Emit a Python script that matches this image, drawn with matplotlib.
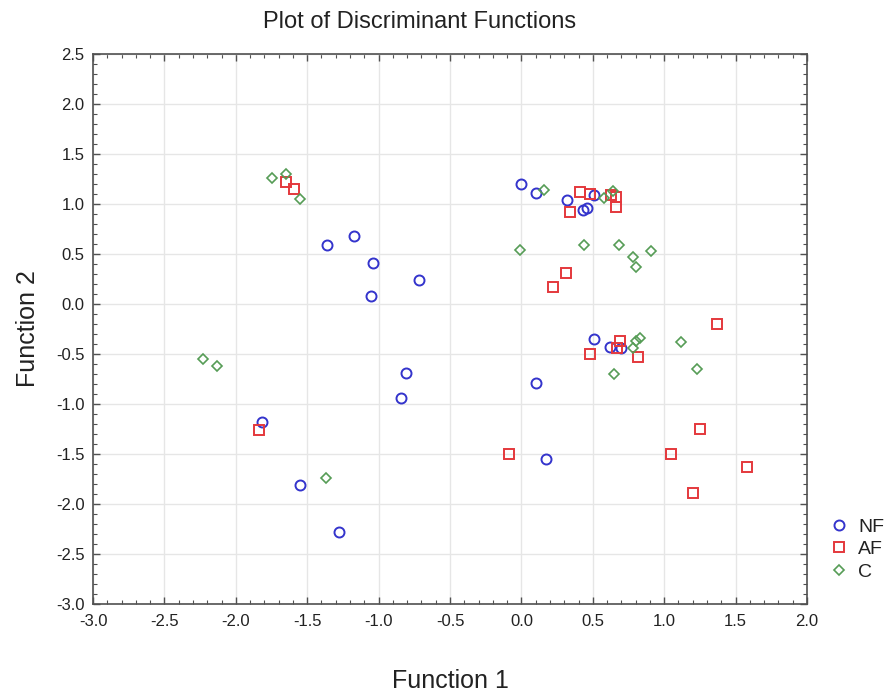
import matplotlib
matplotlib.use("Agg")
import matplotlib.pyplot as plt
from matplotlib.ticker import MultipleLocator, FormatStrFormatter

plt.rcParams['font.family'] = ['Liberation Sans', 'DejaVu Sans']

# ---- data ----
nf_x = [-1.36, -1.17, -1.04, -0.72, -1.05, 0.00, 0.10, 0.32, 0.51, 0.43, 0.46,
        0.51, 0.62, 0.70, 0.10, -0.81, -0.84, -1.82, -1.55, -1.28, 0.17]
nf_y = [0.59, 0.68, 0.41, 0.24, 0.08, 1.20, 1.11, 1.04, 1.09, 0.94, 0.96,
        -0.35, -0.43, -0.44, -0.79, -0.69, -0.94, -1.18, -1.81, -2.28, -1.55]

af_x = [-1.65, -1.59, 0.41, 0.48, 0.34, 0.63, 0.66, 0.66, 0.31, 0.22, 0.69,
        0.67, 0.48, 0.82, 1.37, -1.84, -0.09, 1.05, 1.25, 1.58, 1.20]
af_y = [1.22, 1.15, 1.12, 1.10, 0.92, 1.09, 1.07, 0.97, 0.31, 0.17, -0.37,
        -0.44, -0.50, -0.53, -0.20, -1.26, -1.50, -1.50, -1.25, -1.63, -1.89]

c_x = [-1.75, -1.65, -1.55, 0.16, 0.58, 0.64, -0.01, 0.44, 0.68, 0.78, 0.91,
       0.80, 0.80, 0.83, 0.78, 0.65, 1.12, 1.23, -2.23, -2.13, -1.37]
c_y = [1.26, 1.30, 1.05, 1.14, 1.06, 1.13, 0.54, 0.59, 0.59, 0.47, 0.53,
       0.37, -0.37, -0.34, -0.44, -0.70, -0.38, -0.65, -0.55, -0.62, -1.74]

groups = ["NF", "AF", "C"]

# ---- figure ----
W, H = 889, 693
fig = plt.figure(figsize=(W / 100, H / 100), dpi=100)
ax = fig.add_axes([93 / W, 1 - 604 / H, (807 - 93) / W, (604 - 54) / H])

ms = 7.2
mew = 1.4
ax.plot(nf_x, nf_y, linestyle='none', marker='o', ms=ms, mfc='none',
        mec='#3434cc', mew=mew, label=groups[0], zorder=3)
ax.plot(af_x, af_y, linestyle='none', marker='s', ms=ms, mfc='none',
        mec='#e4383c', mew=mew, label=groups[1], zorder=3)
ax.plot(c_x, c_y, linestyle='none', marker='D', ms=5.6, mfc='none',
        mec='#569c56', mew=1.2, label=groups[2], zorder=3)

ax.set_xlim(-3.0, 2.0)
ax.set_ylim(-3.0, 2.5)
ax.xaxis.set_major_locator(MultipleLocator(0.5))
ax.yaxis.set_major_locator(MultipleLocator(0.5))
ax.xaxis.set_minor_locator(MultipleLocator(0.1))
ax.yaxis.set_minor_locator(MultipleLocator(0.1))
ax.xaxis.set_major_formatter(FormatStrFormatter('%.1f'))
ax.yaxis.set_major_formatter(FormatStrFormatter('%.1f'))

ax.grid(True, which='major', color='#e6e6e6', linewidth=1.0, zorder=0)
ax.set_axisbelow(True)
ax.tick_params(which='both', direction='in', top=True, right=True,
               color='#505050', labelsize=12, labelcolor='#222222')
ax.tick_params(which='major', length=5, width=1)
ax.tick_params(which='minor', length=3, width=0.8)
ax.tick_params(axis='x', pad=7)
ax.tick_params(axis='y', pad=6)
for s in ax.spines.values():
    s.set_color('#505050')
    s.set_linewidth(1.2)

fig.text(420 / W, 1 - 22 / H, "Plot of Discriminant Functions", ha='center',
         va='center', fontsize=17, color='#222222')
fig.text(450 / W, 1 - 681 / H, "Function 1", ha='center', va='center',
         fontsize=18, color='#222222')
fig.text(28 / W, 1 - 329 / H, "Function 2", ha='center', va='center',
         fontsize=18, rotation=90, color='#222222')

leg = ax.legend(loc='upper left', bbox_to_anchor=(829 / W, 1 - 518 / H),
                bbox_transform=fig.transFigure, frameon=False, fontsize=14,
                handlelength=1.0, handletextpad=0.5, labelspacing=0.25,
                borderaxespad=0, borderpad=0)
for t in leg.get_texts():
    t.set_color('#222222')

fig.savefig("out.png", dpi=100)
